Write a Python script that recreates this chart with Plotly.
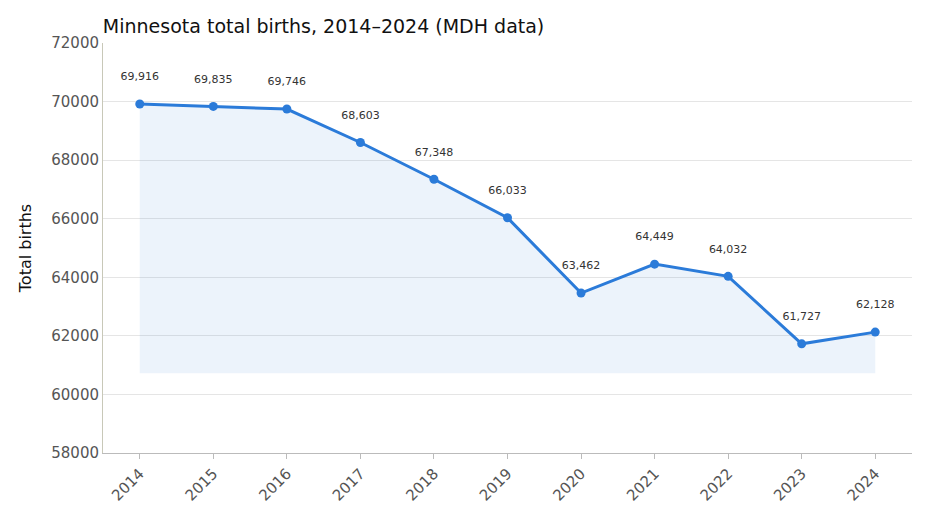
import plotly.graph_objects as go

years = [str(y) for y in range(2014, 2025)]
births = [69916, 69835, 69746, 68603, 67348, 66033, 63462, 64449, 64032, 61727, 62128]
fill_floor = min(births) - 1000

fig = go.Figure()
fig.add_trace(go.Scatter(x=years, y=[fill_floor] * len(years), mode='lines',
                         line=dict(width=0), hoverinfo='skip', showlegend=False))
fig.add_trace(go.Scatter(
    x=years, y=births, mode='lines+markers+text',
    fill='tonexty', fillcolor='rgba(43,122,214,0.09)',
    line=dict(color='#2b7bd9', width=3), marker=dict(size=9, color='#2b7bd9'),
    text=[f"{b:,}<br> " for b in births], textposition='top center',
    textfont=dict(size=11, color='#333333'), showlegend=False))

fig.update_layout(
    width=930, height=523,
    margin=dict(l=95, r=26, t=35, b=78),
    plot_bgcolor='white', paper_bgcolor='white',
    font=dict(family='DejaVu Sans', color='#555555'),
    title=dict(text='Minnesota total births, 2014–2024 (MDH data)', x=0.102, xanchor='left',
               y=0.964, yanchor='middle', font=dict(size=19, color='#111111')),
)
fig.update_xaxes(tickangle=-45, tickfont=dict(size=15), showline=True, linecolor='#bbbbbb',
                 ticks='outside', tickcolor='#bbbbbb', range=[-0.5, 10.5], showgrid=False)
fig.update_yaxes(range=[58000, 72000], dtick=2000, tickfont=dict(size=15), showline=True,
                 linecolor='#c8c8b8', gridcolor='#e5e5e5', tickformat='d',
                 title=dict(text='Total births', font=dict(size=16, color='#111111')))

fig.write_html("out.html")
